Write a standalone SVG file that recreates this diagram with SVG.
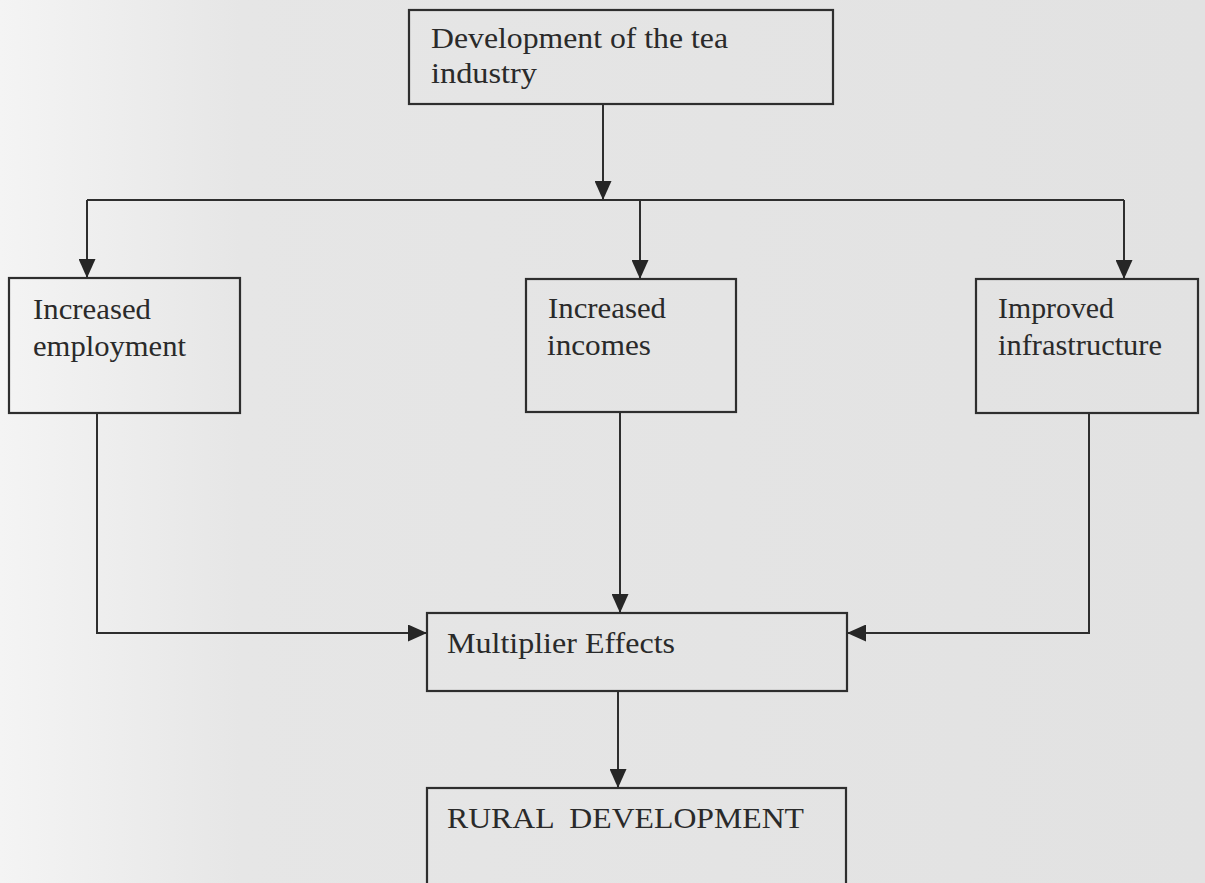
<svg xmlns="http://www.w3.org/2000/svg" width="1205" height="883" viewBox="0 0 1205 883">
<defs>
<linearGradient id="bg" x1="0" y1="0" x2="1" y2="0">
<stop offset="0" stop-color="#f4f4f4"/>
<stop offset="0.2" stop-color="#e6e6e6"/>
<stop offset="1" stop-color="#e2e2e2"/>
</linearGradient>
<marker id="ah" markerUnits="userSpaceOnUse" markerWidth="19" markerHeight="17" viewBox="0 0 19 17" refX="19" refY="8.5" orient="auto">
<path d="M0 0 L19 8.5 L0 17 Z" fill="#262626"/>
</marker>
<style>
.box{fill:none;stroke:#2e2e2e;stroke-width:2.2}
.t{font-family:"Liberation Serif","Times New Roman",serif;font-size:30px;fill:#2a2a2a}
.c{fill:none;stroke:#2e2e2e;stroke-width:2}
</style>
</defs>
<rect width="1205" height="883" fill="url(#bg)"/>
<g id="connectors">
<path class="c" d="M603 104 V200" marker-end="url(#ah)"/>
<path class="c" d="M87 200 H1124"/>
<path class="c" d="M87 200 V278" marker-end="url(#ah)"/>
<path class="c" d="M640 200 V279" marker-end="url(#ah)"/>
<path class="c" d="M1124 200 V279" marker-end="url(#ah)"/>
<path class="c" d="M97 413 V633 H427" marker-end="url(#ah)"/>
<path class="c" d="M620 412 V613" marker-end="url(#ah)"/>
<path class="c" d="M1089 413 V633 H847" marker-end="url(#ah)"/>
<path class="c" d="M618 691 V788" marker-end="url(#ah)"/>
</g>
<g id="node-tea">
<rect class="box" x="409" y="10" width="424" height="94"/>
<text class="t" x="431" y="48" textLength="297" lengthAdjust="spacingAndGlyphs">Development of the tea</text>
<text class="t" x="431" y="83" textLength="106" lengthAdjust="spacingAndGlyphs">industry</text>
</g>
<g id="node-employment">
<rect class="box" x="9" y="278" width="231" height="135"/>
<text class="t" x="33" y="319" textLength="118" lengthAdjust="spacingAndGlyphs">Increased</text>
<text class="t" x="33" y="356" textLength="153" lengthAdjust="spacingAndGlyphs">employment</text>
</g>
<g id="node-incomes">
<rect class="box" x="526" y="279" width="210" height="133"/>
<text class="t" x="548" y="318" textLength="118" lengthAdjust="spacingAndGlyphs">Increased</text>
<text class="t" x="547" y="355" textLength="104" lengthAdjust="spacingAndGlyphs">incomes</text>
</g>
<g id="node-infrastructure">
<rect class="box" x="976" y="279" width="222" height="134"/>
<text class="t" x="998" y="318" textLength="116" lengthAdjust="spacingAndGlyphs">Improved</text>
<text class="t" x="998" y="355" textLength="164" lengthAdjust="spacingAndGlyphs">infrastructure</text>
</g>
<g id="node-multiplier">
<rect class="box" x="427" y="613" width="420" height="78"/>
<text class="t" x="447" y="653" textLength="228" lengthAdjust="spacingAndGlyphs">Multiplier Effects</text>
</g>
<g id="node-rural">
<rect class="box" x="427" y="788" width="419" height="120"/>
<text class="t" x="447" y="828" textLength="357" lengthAdjust="spacingAndGlyphs" xml:space="preserve">RURAL  DEVELOPMENT</text>
</g>
</svg>
